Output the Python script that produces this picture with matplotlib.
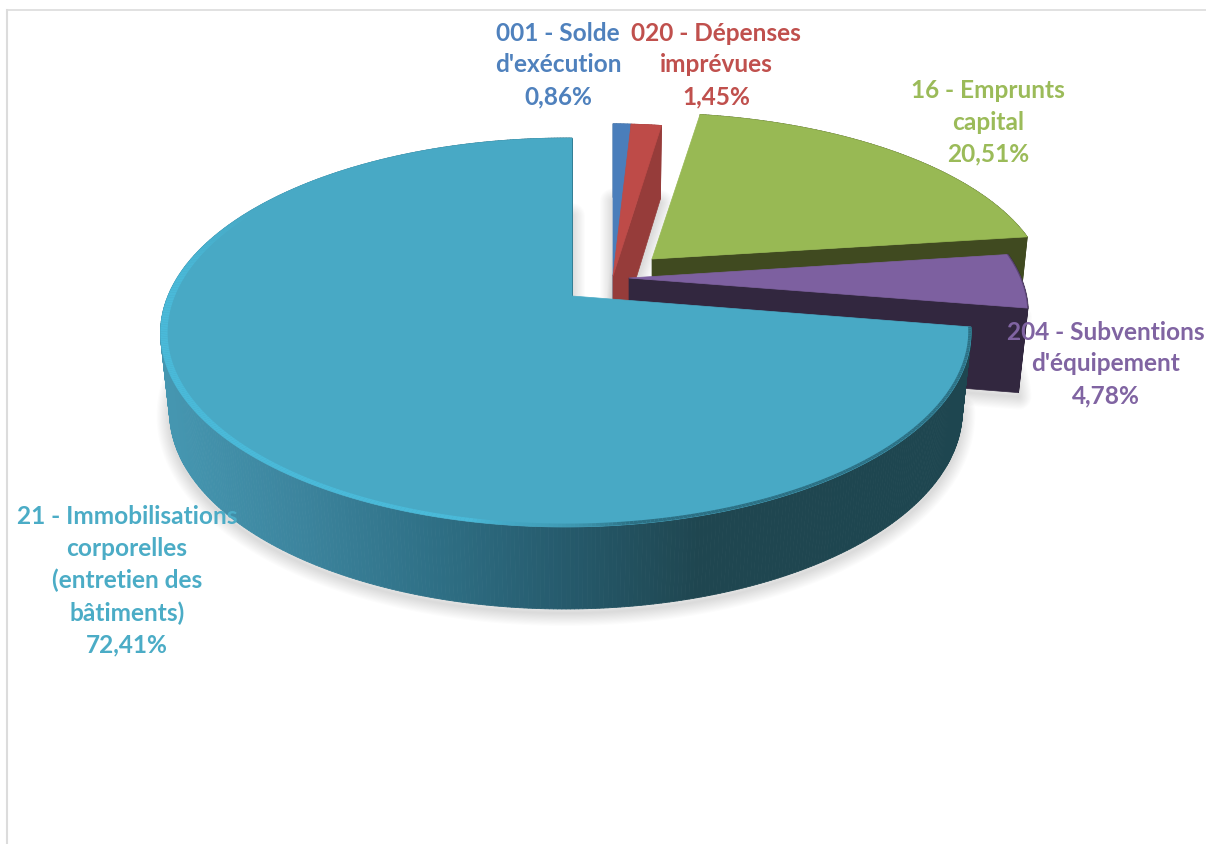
import numpy as np
import matplotlib
matplotlib.use('Agg')
import matplotlib.pyplot as plt
from matplotlib.collections import PolyCollection
from matplotlib.patches import Polygon

# chapter names and share of the budget (%)
names = ['001 - Solde\nd\'exécution', '020 - Dépenses\nimprévues', '16 - Emprunts\ncapital',
         '204 - Subventions\nd\'équipement', '21 - Immobilisations\ncorporelles\n(entretien des\nbâtiments)']
shares = [0.86, 1.45, 20.51, 4.78, 72.41]

top_colors = ['#4A7EBB', '#BE4B48', '#98B954', '#7D60A0', '#48A9C5']
wall_colors = ['#3A6391', '#963C3A', '#404A20', '#32273F', '#2A6A7D']
text_colors = ['#4F81BD', '#C0504D', '#9BBB59', '#8064A2', '#4BACC6']

# where each slice's tip ends up once pulled out of the pie
tips_x = [613, 613, 652, 629, 572]
tips_y = [277, 277, 260, 279, 297]
radii = [1.0, 1.0, 0.99, 1.0, 1.0]
heights = [1.0, 1.0, 1.0, 1.08, 1.0]
label_x = [558, 716, 988, 1106, 127]
label_y = [65, 65, 122, 364, 581]

# camera of the 3D pie
CX, CY = 572, 297
A, B = 187.6, 398
P, Q = 0.1877, 0.015
SHRINK = 0.022

# front wall colour, by screen position
wall_x = [170, 300, 430, 560, 700, 968]
wall_r = [69, 60, 47, 38, 31, 30]
wall_g = [150, 132, 112, 91, 70, 70]
wall_b = [176, 157, 134, 109, 80, 80]


def project(u, v, z=0.0):
    den = 1 - P * v + Q * u
    x = CX + B * u / den * (1 - SHRINK * z)
    y = CY + A * v / den + z * (78 + 4 * v)
    return x, y


def depth_of(y):
    dv = (y - CY) / A
    return dv / (1 + P * dv)


def place(u, v, i, z=0.0):
    # x moves on screen, y moves in the pie's plane
    x, _ = project(u, v, z)
    _, y = project(u, v + depth_of(tips_y[i]), z)
    return x + tips_x[i] - CX, y


def rim(start, end, i, r=1.0, z=0.0):
    n = max(int(end - start) * 2, 6)
    t = np.radians(np.linspace(start, end, n))
    x, y = place(r * radii[i] * np.sin(t), -r * radii[i] * np.cos(t), i, z)
    return np.column_stack([x, y])


def quads(a, b):
    return [[a[k], a[k + 1], b[k + 1], b[k]] for k in range(len(a) - 1)]


fig = plt.figure(figsize=(12.06, 8.45), dpi=100)
ax = fig.add_axes([0, 0, 1, 1])
ax.set_xlim(0, 1206)
ax.set_ylim(845, 0)
ax.axis('off')

# thin frame, top and left only
ax.plot([7, 7], [845, 10.5], color='#DCDCDC', lw=1.5, zorder=1)
ax.plot([7, 1206], [10.5, 10.5], color='#DCDCDC', lw=1.2, zorder=1)

edges = np.cumsum([0] + shares) / sum(shares) * 360
last = len(shares) - 1

# soft shadows go under every slice
for i in range(len(shares)):
    low = rim(edges[i], edges[i + 1], i, z=heights[i])
    pts = np.vstack([place(0, 0, i, heights[i]), low]) + [0, 4]
    for w in np.linspace(26, 2, 12):
        ax.add_patch(Polygon(pts, closed=True, fc='none', ec='#000000', lw=w * 0.72,
                             alpha=0.011, joinstyle='round', zorder=2))

z = 3
for i in range(len(shares)):
    a0, a1 = edges[i], edges[i + 1]
    top = rim(a0, a1, i)
    low = rim(a0, a1, i, z=heights[i])
    tip = place(0, 0, i)
    tip_low = place(0, 0, i, heights[i])

    # outer wall
    cells = quads(top, low)
    if i == last:
        mid = (top[:-1, 0] + top[1:, 0]) / 2
        cols = np.column_stack([np.interp(mid, wall_x, wall_r), np.interp(mid, wall_x, wall_g),
                                np.interp(mid, wall_x, wall_b)]) / 255
    else:
        cols = [wall_colors[i]] * len(cells)
    ax.add_collection(PolyCollection(cells, facecolors=cols, edgecolors=cols, linewidths=0.6, zorder=z))

    # cut face on the clockwise side
    ax.add_patch(Polygon([tip, top[-1], low[-1], tip_low], closed=True, fc=wall_colors[i],
                         ec=wall_colors[i], lw=0.5, zorder=z + 1))

    # top surface
    ax.add_patch(Polygon(np.vstack([tip, top]), closed=True, fc=top_colors[i], ec=top_colors[i],
                         lw=0.5, zorder=z + 2))

    # rounded rim: bright on the left and front, dark towards the right, none at the back
    if i == last:
        t = np.linspace(a0, a1, top.shape[0])
        rad = np.radians(t)
        width = np.interp(t, [102, 180, 270, 300], [0.007, 0.012, 0.017, 0.017])
        inner = np.column_stack(place((1 - width) * np.sin(rad), -(1 - width) * np.cos(rad), i))
        mid = (top[:-1, 0] + top[1:, 0]) / 2
        tm = (t[:-1] + t[1:]) / 2
        mix = np.clip((mid - 470) / 160, 0, 1)[:, None]
        light = np.array([74, 186, 217]) / 255
        dark = np.array([44, 112, 132]) / 255
        cols = light * (1 - mix) + dark * mix
        alpha = np.clip((300 - tm) / 25, 0, 1)[:, None]
        alpha = alpha * np.clip(1 - 0.45 * np.sin(np.pi * np.clip((mid - 470) / 160, 0, 1)), 0, 1)[:, None]
        rgba = np.hstack([cols, alpha])
        ax.add_collection(PolyCollection(quads(inner, top), facecolors=rgba, edgecolors='none',
                                         zorder=z + 3))
    elif i == 3:
        ax.plot(top[:, 0], top[:, 1], color=wall_colors[i], lw=1.2, alpha=0.4, zorder=z + 3)
    z += 5

for name, share, x, y, c in zip(names, shares, label_x, label_y, text_colors):
    value = f'{share:.2f}'.replace('.', ',') + '%'
    ax.text(x, y, name + '\n' + value, color=c, ha='center', va='center', fontsize=17.6,
            fontweight='bold', family='Lato', linespacing=1.46, zorder=60)

fig.savefig('out.png', dpi=100)
